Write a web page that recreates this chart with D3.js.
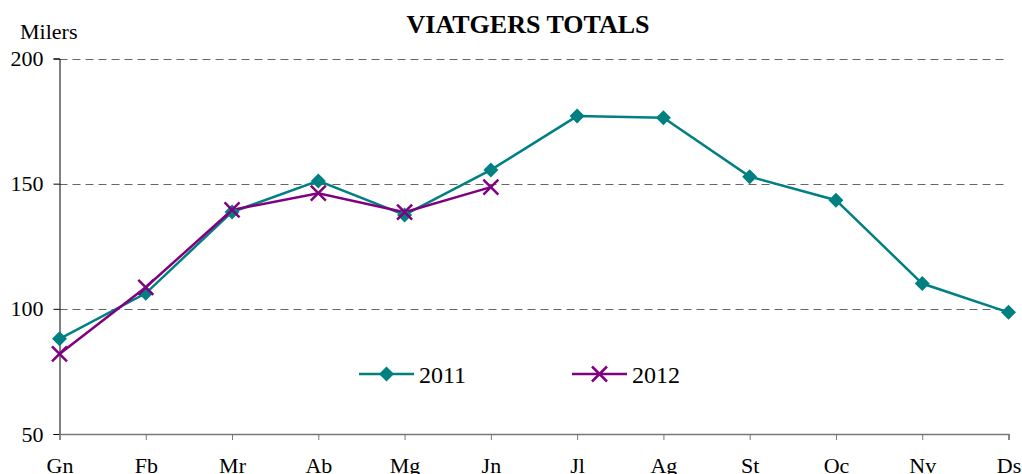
<!DOCTYPE html>
<html>
<head>
<meta charset="utf-8">
<script src="https://cdn.jsdelivr.net/npm/d3@7"></script>
<style>
  body { margin: 0; background: #fff; }
  svg { display: block; font-family: 'Liberation Serif', 'Times New Roman', serif; }
</style>
</head>
<body>
<script>
'use strict';

var months = ['Gn', 'Fb', 'Mr', 'Ab', 'Mg', 'Jn', 'Jl', 'Ag', 'St', 'Oc', 'Nv', 'Ds'];
var values2011 = [88, 106.2, 138.7, 151.1, 137.5, 155.5, 177, 176.3, 152.8, 143.4, 110.1, 98.6];
var values2012 = [82, 108.6, 139.5, 146.2, 138.6, 148.6];
var yTicks = [50, 100, 150, 200];

function drawChart() {
  var width = 1022;
  var height = 474;
  var plotLeft = 59.5, plotRight = 1008.5, plotTop = 58.5, plotBottom = 434;

  var svg = d3.select('body').append('svg')
    .attr('width', width)
    .attr('height', height);

  var x = d3.scalePoint().domain(months).range([plotLeft, plotRight]);
  var y = d3.scaleLinear().domain([50, 200]).range([plotBottom, plotTop]);

  // gridlines
  svg.append('g')
    .selectAll('line')
    .data(yTicks.filter(function(d) { return d > 50; }))
    .enter().append('line')
    .attr('x1', plotLeft)
    .attr('x2', 1005)
    .attr('y1', function(d) { return Math.round(y(d)) + 0.5; })
    .attr('y2', function(d) { return Math.round(y(d)) + 0.5; })
    .attr('stroke', '#666')
    .attr('stroke-width', 1)
    .attr('stroke-dasharray', '8,5');

  // y axis
  var yAxis = svg.append('g')
    .attr('transform', 'translate(' + plotLeft + ',0)')
    .call(d3.axisLeft(y).tickValues(yTicks).tickSize(6).tickPadding(10));
  yAxis.select('.domain').attr('stroke', '#000');
  yAxis.selectAll('.tick line').attr('stroke', '#000');
  yAxis.selectAll('text')
    .style('font-family', 'Liberation Serif, serif')
    .style('font-size', '22px')
    .attr('fill', '#000');

  // x axis
  var xAxis = svg.append('g')
    .attr('transform', 'translate(0,' + plotBottom + ')')
    .call(d3.axisBottom(x).tickSizeOuter(0).tickSize(6).tickPadding(17));
  xAxis.select('.domain').attr('stroke', '#777').attr('stroke-width', 1.5);
  xAxis.selectAll('.tick line').attr('stroke', '#777');
  xAxis.selectAll('text')
    .style('font-family', 'Liberation Serif, serif')
    .style('font-size', '22px')
    .attr('fill', '#000');

  // lines
  var line = d3.line()
    .x(function(d, i) { return x(months[i]); })
    .y(function(d) { return y(d); });

  svg.append('path')
    .datum(values2011)
    .attr('d', line)
    .attr('fill', 'none')
    .attr('stroke', '#008080')
    .attr('stroke-width', 2.5);

  svg.append('path')
    .datum(values2012)
    .attr('d', line)
    .attr('fill', 'none')
    .attr('stroke', '#800080')
    .attr('stroke-width', 2.5);

  var diamond = 'M0,-7.5L7.5,0L0,7.5L-7.5,0Z';
  var cross = 'M-7.5,-7.5L7.5,7.5M-7.5,7.5L7.5,-7.5';

  svg.append('g')
    .selectAll('path')
    .data(values2011)
    .enter().append('path')
    .attr('d', diamond)
    .attr('transform', function(d, i) { return 'translate(' + x(months[i]) + ',' + y(d) + ')'; })
    .attr('fill', '#008080');

  svg.append('g')
    .selectAll('path')
    .data(values2012)
    .enter().append('path')
    .attr('d', cross)
    .attr('transform', function(d, i) { return 'translate(' + x(months[i]) + ',' + y(d) + ')'; })
    .attr('fill', 'none')
    .attr('stroke', '#800080')
    .attr('stroke-width', 2.5);

  // legend
  var legend = [
    { label: '2011', color: '#008080', shape: diamond, fill: true, x: 359 },
    { label: '2012', color: '#800080', shape: cross, fill: false, x: 572 }
  ];
  var lg = svg.append('g')
    .selectAll('g')
    .data(legend)
    .enter().append('g')
    .attr('transform', function(d) { return 'translate(' + d.x + ',374)'; });
  lg.append('line')
    .attr('x1', 0).attr('x2', 55)
    .attr('stroke', function(d) { return d.color; })
    .attr('stroke-width', 2.5);
  lg.append('path')
    .attr('d', function(d) { return d.shape; })
    .attr('transform', 'translate(27.5,0)')
    .attr('fill', function(d) { return d.fill ? d.color : 'none'; })
    .attr('stroke', function(d) { return d.fill ? 'none' : d.color; })
    .attr('stroke-width', 2.5);
  lg.append('text')
    .attr('x', 60)
    .attr('y', 9)
    .style('font-size', '24px')
    .text(function(d) { return d.label; });

  // title
  svg.append('text')
    .attr('x', 528)
    .attr('y', 33)
    .attr('text-anchor', 'middle')
    .style('font-size', '26px')
    .style('font-weight', 'bold')
    .text('VIATGERS TOTALS');

  svg.append('text')
    .attr('x', 20)
    .attr('y', 39)
    .style('font-size', '22px')
    .text('Milers');
}

drawChart();
</script>
</body>
</html>
